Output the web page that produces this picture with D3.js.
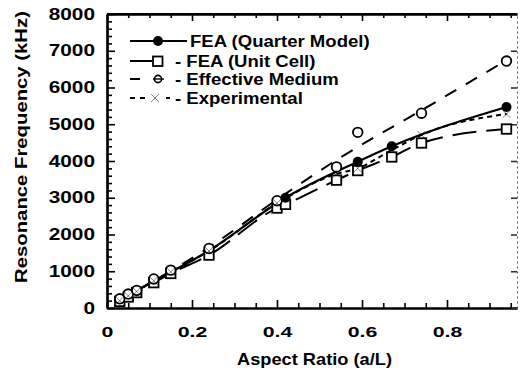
<!DOCTYPE html>
<html><head><meta charset="utf-8">
<script src="https://cdn.jsdelivr.net/npm/d3@7"></script>
<style>
html,body{margin:0;padding:0;background:#fff;}
svg{display:block;}
text{font-family:"Liberation Sans",Arial,sans-serif;font-weight:bold;fill:#000;}
</style></head>
<body>
<svg id="c" width="521" height="373"></svg>
<script>
// ---- data ----
const quarterX = [0.03, 0.05, 0.11, 0.24, 0.42, 0.59, 0.67, 0.94];
const quarterY = [230, 350, 730, 1560, 3000, 3980, 4400, 5470];
const quarterMarkX = [0.42, 0.59, 0.67, 0.94];
const quarterMarkY = [3000, 3980, 4400, 5470];

const unitX = [0.03, 0.05, 0.07, 0.11, 0.15, 0.24, 0.40, 0.42, 0.54, 0.59, 0.67, 0.74, 0.94];
const unitY = [180, 300, 420, 690, 940, 1440, 2720, 2820, 3480, 3740, 4110, 4490, 4870];

const effX = [0.03, 0.05, 0.07, 0.11, 0.15, 0.24, 0.40, 0.54, 0.59, 0.74, 0.94];
const effY = [250, 380, 480, 790, 1030, 1620, 2920, 3840, 4780, 5300, 6720];
const effLineX = [0.03, 0.24, 0.40, 0.55, 0.74, 0.94];
const effLineY = [220, 1650, 2950, 4100, 5380, 6740];

const expX = [0.03, 0.05, 0.07, 0.11, 0.15, 0.24, 0.40, 0.54, 0.59, 0.67, 0.74, 0.94];
const expY = [200, 330, 450, 740, 980, 1550, 2850, 3650, 3800, 4300, 4710, 5280];

const xTicks = [0, 0.2, 0.4, 0.6, 0.8];
const xTickLabels = ["0", "0.2", "0.4", "0.6", "0.8"];
const yTicks = [0, 1000, 2000, 3000, 4000, 5000, 6000, 7000, 8000];
const legendLabels = ["FEA (Quarter Model)", "- FEA (Unit Cell)", "- Effective Medium", "- Experimental"];

(function () {
const svg = d3.select("#c");
const L = 107, R = 517, T = 14, B = 308;
const x = d3.scaleLinear().domain([0, (R - L) / 425]).range([L, R]);
const y = d3.scaleLinear().domain([0, 8000]).range([B, T]);
const FONT = "'Liberation Sans',Arial,sans-serif";

const g = svg.append("g");
const xMinor = d3.range(0, 0.96, 0.05).filter(v => !xTicks.some(t => Math.abs(t - v) < 1e-6));
const yMinor = d3.range(0, 8001, 200).filter(v => v % 1000 !== 0);

// bottom axis (ticks inward)
const sxX = 1.42, sxY = 1.3;
const axB = d3.axisBottom(x).tickValues(xTicks).tickFormat((d, i) => xTickLabels[i]).tickSizeInner(-8).tickSizeOuter(0).tickPadding(18);
const gB = g.append("g").attr("transform", `translate(0,${B})`).call(axB);
gB.selectAll(".tick text").style("font-size", "15px").attr("transform", `scale(${sxX},1)`);
g.append("g").attr("transform", `translate(0,${B})`).call(d3.axisBottom(x).tickValues(xMinor).tickFormat("").tickSizeInner(-5).tickSizeOuter(0));

// top axis (ticks inward)
g.append("g").attr("transform", `translate(0,${T})`).call(d3.axisTop(x).tickValues(xTicks).tickFormat("").tickSizeInner(-7).tickSizeOuter(0));
g.append("g").attr("transform", `translate(0,${T})`).call(d3.axisTop(x).tickValues(xMinor).tickFormat("").tickSizeInner(-4).tickSizeOuter(0));

// left axis (ticks inward)
const axL = d3.axisLeft(y).tickValues(yTicks).tickFormat(d3.format("d")).tickSizeInner(-8).tickSizeOuter(0).tickPadding(12);
const gL = g.append("g").attr("transform", `translate(${L},0)`).call(axL);
gL.selectAll(".tick text").style("font-size", "16px").attr("x", -12 / sxY).attr("transform", `scale(${sxY},1)`);
g.append("g").attr("transform", `translate(${L},0)`).call(d3.axisLeft(y).tickValues(yMinor).tickFormat("").tickSizeInner(-5).tickSizeOuter(0));

// right axis (faint, dotted)
const gr = g.append("g").attr("class", "raxis").attr("transform", `translate(${R},0)`)
  .call(d3.axisRight(y).tickValues(yTicks).tickFormat("").tickSizeInner(-6).tickSizeOuter(0));
gr.select(".domain").attr("stroke-dasharray", "2,3").attr("stroke", "#555");
gr.selectAll(".tick line").attr("stroke", "#333");

g.selectAll(".domain").filter(function(){ return !this.parentNode.classList.contains("raxis"); }).attr("stroke-width", 2.2);
g.selectAll(".tick line").attr("stroke-width", 1.6);
g.selectAll(".tick text").style("font-family", FONT).style("font-weight", "bold");
g.append("line").attr("x1", L).attr("x2", R).attr("y1", T).attr("y2", T).attr("stroke", "#000").attr("stroke-width", 2.2);

// axis titles (stretched like the scanned lettering)
svg.append("text").attr("transform", "translate(314.5,365) scale(1.14,1)").attr("text-anchor", "middle").style("font-size", "16px").text("Aspect Ratio (a/L)");
svg.append("text").attr("transform", "translate(27,147) rotate(-90) scale(1.27,1)").attr("text-anchor", "middle").style("font-size", "16px").text("Resonance Frequency (kHz)");

// ---- lines ----
const zip = (xs, ys) => xs.map((v, i) => [v, ys[i]]);
const lineSmooth = d3.line().x(d => x(d[0])).y(d => y(d[1])).curve(d3.curveMonotoneX);
const plot = svg.append("g");

plot.append("path").datum(zip(effLineX, effLineY)).attr("d", lineSmooth)
  .attr("fill", "none").attr("stroke", "#000").attr("stroke-width", 2).attr("stroke-dasharray", "13,11");
plot.append("path").datum(zip(unitX, unitY)).attr("d", lineSmooth)
  .attr("fill", "none").attr("stroke", "#000").attr("stroke-width", 2).attr("stroke-dasharray", "24,10");
plot.append("path").datum(zip(expX, expY)).attr("d", lineSmooth)
  .attr("fill", "none").attr("stroke", "#000").attr("stroke-width", 2).attr("stroke-dasharray", "5,4");
plot.append("path").datum(zip(quarterX, quarterY)).attr("d", lineSmooth)
  .attr("fill", "none").attr("stroke", "#000").attr("stroke-width", 2.2);

// ---- markers ----
const sq = 9.5;
plot.selectAll(".usq").data(zip(unitX, unitY)).join("rect")
  .attr("x", d => x(d[0]) - sq / 2).attr("y", d => y(d[1]) - sq / 2).attr("width", sq).attr("height", sq)
  .attr("fill", "#fff").attr("stroke", "#000").attr("stroke-width", 1.8);
plot.selectAll(".eci").data(zip(effX, effY)).join("circle")
  .attr("cx", d => x(d[0])).attr("cy", d => y(d[1])).attr("r", 4.8)
  .attr("fill", "#fff").attr("stroke", "#000").attr("stroke-width", 1.8);
const xm = d3.symbol().type(d3.symbolX).size(40);
plot.selectAll(".exx").data(zip(expX, expY)).join("path")
  .attr("transform", d => `translate(${x(d[0])},${y(d[1])})`).attr("d", xm)
  .attr("fill", "#000").attr("stroke", "#000").attr("stroke-width", 0.5);
plot.selectAll(".qfc").data(zip(quarterMarkX, quarterMarkY)).join("circle")
  .attr("cx", d => x(d[0])).attr("cy", d => y(d[1])).attr("r", 5)
  .attr("fill", "#000");

// ---- legend ----
const leg = svg.append("g");
const rows = [41, 61, 79, 98];
// row 1
leg.append("line").attr("x1", 130).attr("x2", 187).attr("y1", rows[0]).attr("y2", rows[0]).attr("stroke", "#000").attr("stroke-width", 2);
leg.append("circle").attr("cx", 158).attr("cy", rows[0]).attr("r", 5).attr("fill", "#000");
// row 2
leg.append("line").attr("x1", 130).attr("x2", 152).attr("y1", rows[1]).attr("y2", rows[1]).attr("stroke", "#000").attr("stroke-width", 2);
leg.append("rect").attr("x", 153).attr("y", rows[1] - 4.5).attr("width", 9.5).attr("height", 9.5).attr("fill", "#fff").attr("stroke", "#000").attr("stroke-width", 1.8);
// row 3
leg.append("line").attr("x1", 130).attr("x2", 140).attr("y1", rows[2]).attr("y2", rows[2]).attr("stroke", "#000").attr("stroke-width", 2);
leg.append("circle").attr("cx", 158).attr("cy", rows[2]).attr("r", 3.6).attr("fill", "#fff").attr("stroke", "#000").attr("stroke-width", 1.6);
leg.append("line").attr("x1", 153).attr("x2", 164).attr("y1", rows[2]).attr("y2", rows[2]).attr("stroke", "#000").attr("stroke-width", 1.4);
// row 4
leg.append("line").attr("x1", 130).attr("x2", 146).attr("y1", rows[3]).attr("y2", rows[3]).attr("stroke", "#000").attr("stroke-width", 2).attr("stroke-dasharray", "5,5");
leg.append("path").attr("transform", `translate(155,${rows[3]})`).attr("d", xm).attr("fill", "#000").attr("stroke", "#000").attr("stroke-width", 0.5);
leg.append("line").attr("x1", 166).attr("x2", 170).attr("y1", rows[3]).attr("y2", rows[3]).attr("stroke", "#000").attr("stroke-width", 2);
leg.selectAll(".lt").data(legendLabels).join("text")
  .attr("transform", (d, i) => `translate(${i === 0 ? 190 : 175},${rows[i] + 6}) scale(1.16,1)`)
  .style("font-size", "16px")
  .text(d => d);
})();
</script>
</body></html>
